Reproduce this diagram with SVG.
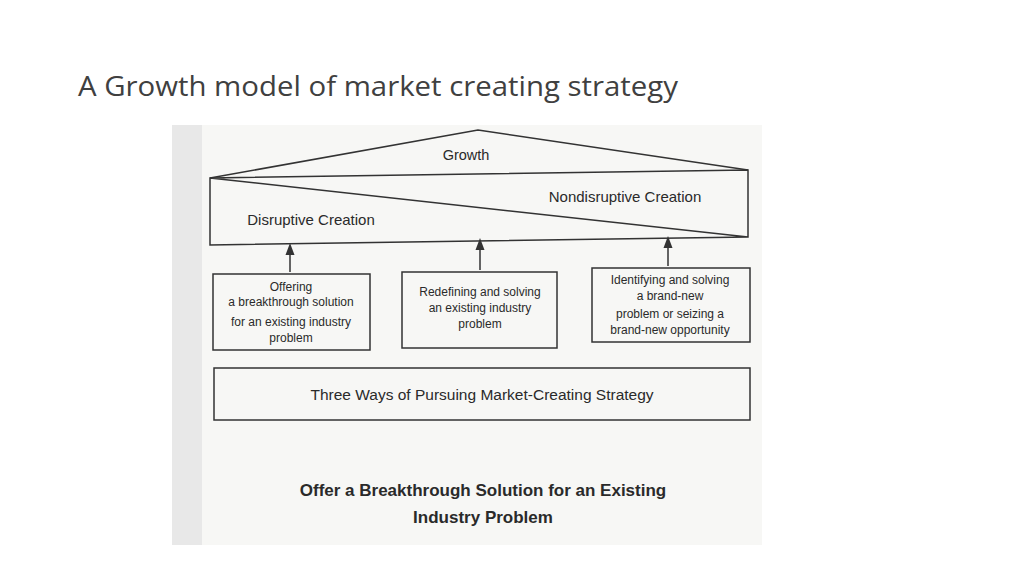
<svg xmlns="http://www.w3.org/2000/svg" width="1024" height="576" viewBox="0 0 1024 576">
<style>
.ln{fill:none;stroke:#333;stroke-width:1.5}
.t{font-family:"Liberation Sans",Arial,sans-serif;fill:#2a2a2a;text-anchor:middle}
.s{font-size:12px}
</style>
<defs><marker id="a" markerWidth="8" markerHeight="8" refX="4" refY="4" orient="auto"><path d="M0,1 L8,4 L0,7 Z" fill="#333"/></marker></defs>
<rect width="1024" height="576" fill="#fff"/>
<text x="78" y="96" font-family="'Open Sans','Liberation Sans',sans-serif" font-size="27" textLength="600" lengthAdjust="spacingAndGlyphs" fill="#404040">A Growth model of market creating strategy</text>
<rect x="172" y="125" width="590" height="420" fill="#f7f7f5"/>
<rect x="172" y="125" width="30" height="420" fill="#e8e8e8"/>
<g id="roof"><path class="ln" d="M210,178 L478,130 L748,170"/><text class="t" x="466" y="160" font-size="14.5">Growth</text></g>
<g id="creation"><path class="ln" d="M210,178 L748,170 L748,237 L210,245 Z M210,178 L748,237"/>
<text class="t" x="311" y="225" font-size="15">Disruptive Creation</text>
<text class="t" x="625" y="202" font-size="15">Nondisruptive Creation</text></g>
<g id="connectors">
<line class="ln" x1="290" y1="272" x2="290" y2="249" marker-end="url(#a)"/>
<line class="ln" x1="480" y1="270" x2="480" y2="244" marker-end="url(#a)"/>
<line class="ln" x1="668" y1="266" x2="668" y2="242" marker-end="url(#a)"/>
</g>
<g id="box1"><rect class="ln" x="213" y="274" width="157" height="76"/>
<text class="t s" x="291" y="291">Offering</text><text class="t s" x="291" y="306">a breakthrough solution</text><text class="t s" x="291" y="326">for an existing industry</text><text class="t s" x="291" y="342">problem</text></g>
<g id="box2"><rect class="ln" x="402" y="272" width="155" height="76"/>
<text class="t s" x="480" y="296">Redefining and solving</text><text class="t s" x="480" y="312">an existing industry</text><text class="t s" x="480" y="328">problem</text></g>
<g id="box3"><rect class="ln" x="592" y="268" width="158" height="74"/>
<text class="t s" x="670" y="284">Identifying and solving</text><text class="t s" x="670" y="300">a brand-new</text><text class="t s" x="670" y="318">problem or seizing a</text><text class="t s" x="670" y="334">brand-new opportunity</text></g>
<g id="base"><rect class="ln" x="214" y="368" width="536" height="52"/>
<text class="t" x="482" y="400" font-size="15.5">Three Ways of Pursuing Market-Creating Strategy</text></g>
<text class="t" x="483" y="496" font-size="17" font-weight="bold">Offer a Breakthrough Solution for an Existing</text>
<text class="t" x="483" y="523" font-size="17" font-weight="bold">Industry Problem</text>
</svg>
